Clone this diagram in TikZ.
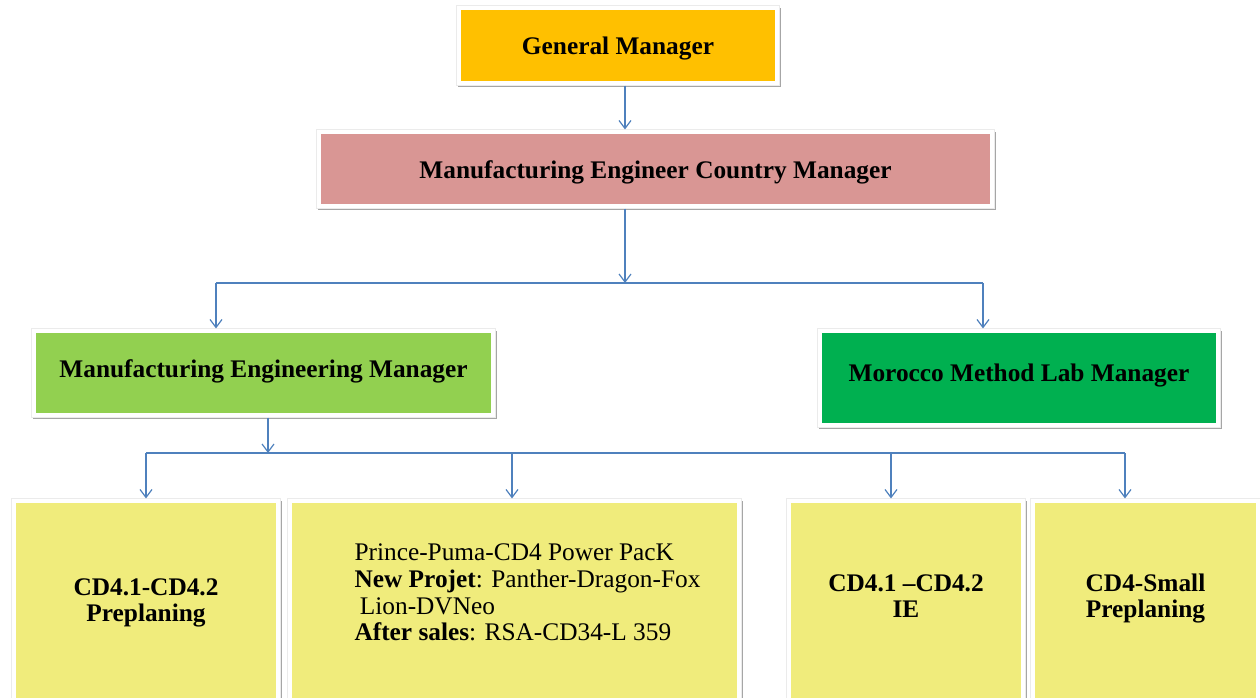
\documentclass[tikz,border=0pt]{standalone}
\usepackage{fontspec}
\setmainfont{Liberation Serif}
\newfontfamily\regserif{Liberation Serif}
\usetikzlibrary{arrows.meta,shadows,fit,backgrounds}
\definecolor{gmC}{HTML}{FFC000}
\definecolor{cmC}{HTML}{D99694}
\definecolor{meC}{HTML}{92D050}
\definecolor{mlC}{HTML}{00B050}
\definecolor{ylC}{HTML}{F0EC7C}
\definecolor{arC}{HTML}{4F81BD}
\newcommand{\shiftup}[2]{\raisebox{#1}[\height][\depth]{#2}}
\tikzset{
  inbox/.style={rectangle, fill=#1, inner sep=0pt, align=center,
    font=\fontsize{19}{19.5}\selectfont\bfseries},
  frame/.style={rectangle, fill=white, draw=black!8, line width=0.4pt, inner sep=3pt,
    drop shadow={shadow xshift=1pt, shadow yshift=-1.6pt, opacity=0.35, fill=black}},
  arr/.style={draw=arC, line width=0.9pt, -{Straight Barb[length=6pt,width=9pt]}},
  ln/.style={draw=arC, line width=0.9pt},
}
\begin{document}
\begin{tikzpicture}[x=0.75pt,y=-0.75pt]
\useasboundingbox (0,0) rectangle (1260,698);
% inner coloured boxes
\node[inbox=gmC, minimum width=235.5pt, minimum height=53.25pt] (GM) at (618,45.5) {\shiftup{-2.25pt}{General Manager}};
\node[inbox=cmC, minimum width=501.75pt, minimum height=52.5pt] (CM) at (655.5,169) {\shiftup{-2.25pt}{Manufacturing Engineer Country Manager}};
\node[inbox=meC, minimum width=341.25pt, minimum height=60pt] (ME) at (263.5,373) {\shiftup{1.5pt}{Manufacturing Engineering Manager}};
\node[inbox=mlC, minimum width=295.5pt, minimum height=67.5pt] (ML) at (1019,378) {\shiftup{1.5pt}{Morocco Method Lab Manager}};
\node[inbox=ylC, minimum width=195pt, minimum height=147.75pt] (B1) at (146,601.5) {\shiftup{-1.5pt}{\begin{tabular}{@{}c@{}}CD4.1-CD4.2\\Preplaning\end{tabular}}};
\node[inbox=ylC, minimum width=333.75pt, minimum height=147.75pt] (B2) at (514.5,601.5) {\shiftup{4.5pt}{\hspace*{19.5pt}\regserif\mdseries\fontsize{19}{20}\selectfont\begin{tabular}{@{}l@{}}Prince-Puma-CD4 Power PacK\\\textbf{New Projet}: Panther-Dragon-Fox\\\hspace*{4pt}Lion-DVNeo\\\textbf{After sales}: RSA-CD34-L 359\end{tabular}}};
\node[inbox=ylC, minimum width=172.5pt, minimum height=147.75pt] (B3) at (906,601.5) {\shiftup{2pt}{\begin{tabular}{@{}c@{}}CD4.1 --CD4.2\\IE\end{tabular}}};
\node[inbox=ylC, minimum width=165.75pt, minimum height=147.75pt] (B4) at (1145.5,601.5) {\shiftup{2pt}{\begin{tabular}{@{}c@{}}CD4-Small\\Preplaning\end{tabular}}};
% white frames with shadow
\begin{scope}[on background layer]
\node[frame, fit=(GM)] (GMf) {};
\node[frame, fit=(CM)] (CMf) {};
\node[frame, fit=(ME)] (MEf) {};
\node[frame, fit=(ML)] (MLf) {};
\node[frame, fit=(B1)] (B1f) {};
\node[frame, fit=(B2)] (B2f) {};
\node[frame, fit=(B3)] (B3f) {};
\node[frame, fit=(B4)] (B4f) {};
\end{scope}
% junction points
\coordinate (j1) at (625,283);
\coordinate (a1) at (216,283);
\coordinate (a2) at (983,283);
\coordinate (j2) at (268,453);
\coordinate (b1) at (146,453);
\coordinate (b2) at (512,453);
\coordinate (b3) at (891,453);
\coordinate (b4) at (1125,453);
% connectors
\draw[arr] (GMf.south -| j1) -- (CMf.north -| j1);
\draw[arr] (CMf.south -| j1) -- (j1);
\draw[ln] (a1) -- (a2);
\draw[arr] (a1) -- (MEf.north -| a1);
\draw[arr] (a2) -- (MLf.north -| a2);
\draw[arr] (MEf.south -| j2) -- (j2);
\draw[ln] (b1) -- (b4);
\draw[arr] (b1) -- (B1f.north -| b1);
\draw[arr] (b2) -- (B2f.north -| b2);
\draw[arr] (b3) -- (B3f.north -| b3);
\draw[arr] (b4) -- (B4f.north -| b4);
\end{tikzpicture}
\end{document}
